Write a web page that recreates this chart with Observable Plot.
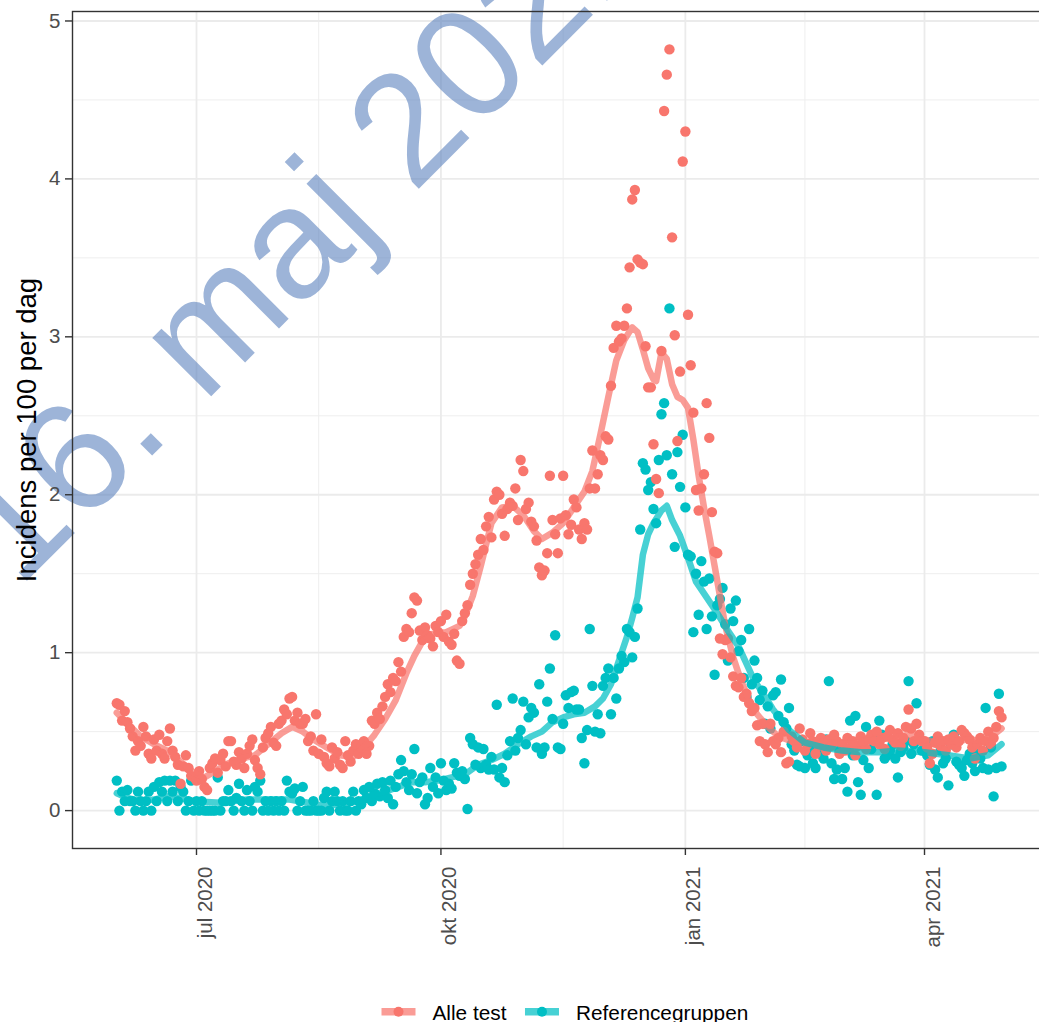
<!DOCTYPE html>
<html>
<head>
<meta charset="utf-8">
<script src="https://cdn.jsdelivr.net/npm/d3@7"></script>
<script src="https://cdn.jsdelivr.net/npm/@observablehq/plot@0.6"></script>
<style>
  html, body { margin: 0; padding: 0; background: #fff; overflow: hidden; }
  #wrap { position: relative; width: 1039px; height: 1022px; overflow: hidden; font-family: "Liberation Sans", Arial, sans-serif; }
  #chart { position: absolute; left: 0; top: 0; }
  #legend { position: absolute; left: 0; top: 990px; }
</style>
</head>
<body>
<div id="wrap"><div id="chart"></div><svg id="legend" width="1039" height="32"></svg></div>
<script>
// ---------- series & labels ----------
const seriesNames = ["Alle test", "Referencegruppen"];
const seriesColors = ["#F8766D", "#00BFC4"];
const yTitle = "Incidens per 100 per dag";
const watermark = "16. maj 2021";
const firstDay = "2020-06-01";            // daily observations from here on

// ---------- Alle test: daily incidence (per 100 per day) ----------
const alle_2020_06 = [0.68,0.67,0.57,0.63,0.56,0.52,0.47,0.38,0.44,0.41,0.53,0.47,0.36,0.33,0.45,0.38,0.48,0.36,0.33,0.44,0.52,0.38,0.34,0.29,0.17,0.28,0.35,0.27,0.22,0.21];
const alle_2020_07 = [0.19,0.25,0.20,0.15,0.13,0.27,0.30,0.33,0.24,0.32,0.36,0.28,0.44,0.44,0.31,0.29,0.37,0.33,0.27,0.36,0.41,0.45,0.32,0.27,0.23,0.40,0.46,0.49,0.53,0.43,0.41];
const alle_2020_08 = [0.55,0.57,0.64,0.61,0.71,0.72,0.57,0.62,0.55,0.55,0.58,0.44,0.47,0.38,0.61,0.36,0.45,0.34,0.30,0.28,0.40,0.33,0.37,0.29,0.27,0.44,0.35,0.31,0.38,0.42,0.36];
const alle_2020_09 = [0.40,0.44,0.36,0.41,0.57,0.55,0.62,0.58,0.66,0.72,0.80,0.75,0.84,0.82,0.94,0.88,1.10,1.15,1.13,1.25,1.35,1.33,1.14,1.08,1.16,1.11,1.09,1.04,1.17,1.13];
const alle_2020_10 = [1.20,1.10,1.24,1.07,1.05,1.12,0.95,0.93,1.20,1.25,1.30,1.43,1.50,1.56,1.62,1.72,1.65,1.80,1.86,1.73,1.97,2.02,2.00,1.88,1.74,1.91,1.95,1.93,2.04,1.84,2.22];
const alle_2020_11 = [2.15,1.91,1.95,1.83,1.80,1.71,1.54,1.49,1.52,1.63,2.12,1.84,1.75,1.63,1.85,2.12,1.87,1.75,1.81,1.97,1.92,1.78,1.72,1.82,1.78,2.04,2.28,2.04,2.13,2.25];
const alle_2020_12 = [2.22,2.37,2.35,2.69,2.93,3.07,2.97,2.99,3.07,3.18,3.44,3.87,3.93,3.49,3.47,3.46,2.94,2.68,2.68,2.32,2.10,2.01,2.91,4.43,4.66,4.82,3.63,3.01,2.34,2.78,4.11];
const alle_2021_01 = [4.30,3.14,2.82,2.52,2.03,1.90,2.04,2.13,2.58,2.36,1.89,1.64,1.63,1.09,0.99,1.08,1.09,0.97,0.85,0.79,0.78,0.84,0.72,0.74,0.68,0.63,0.65,0.54,0.44,0.55,0.42];
const alle_2021_02 = [0.37,0.55,0.44,0.42,0.46,0.37,0.50,0.30,0.31,0.47,0.44,0.40,0.52,0.45,0.38,0.42,0.49,0.44,0.36,0.41,0.46,0.43,0.38,0.45,0.41,0.48,0.44,0.36];
const alle_2021_03 = [0.42,0.38,0.46,0.40,0.44,0.35,0.41,0.47,0.43,0.39,0.45,0.48,0.44,0.50,0.42,0.46,0.39,0.47,0.51,0.45,0.43,0.49,0.41,0.46,0.53,0.64,0.52,0.44,0.55,0.48,0.44];
const alle_2021_04 = [0.44,0.40,0.30,0.36,0.43,0.47,0.41,0.44,0.38,0.45,0.42,0.47,0.40,0.44,0.51,0.49,0.47,0.45,0.40,0.33,0.42,0.46,0.38,0.44,0.50,0.42,0.46,0.53,0.63,0.59];

// ---------- Referencegruppen: daily incidence ----------
const ref_2020_06 = [0.19,0.00,0.12,0.06,0.13,0.06,0.06,0.00,0.12,0.06,0.00,0.06,0.12,0.00,0.15,0.06,0.18,0.12,0.19,0.06,0.19,0.12,0.19,0.06,0.15,0.12,0.00,0.06,0.19,0.00];
const ref_2020_07 = [0.06,0.00,0.06,0.00,0.00,0.00,0.00,0.00,0.21,0.00,0.06,0.06,0.13,0.06,0.00,0.08,0.17,0.06,0.00,0.13,0.06,0.00,0.15,0.12,0.19,0.00,0.06,0.00,0.06,0.00,0.06];
const ref_2020_08 = [0.00,0.06,0.00,0.19,0.12,0.11,0.14,0.00,0.06,0.15,0.00,0.00,0.00,0.06,0.00,0.00,0.00,0.08,0.12,0.00,0.06,0.12,0.06,0.00,0.06,0.00,0.00,0.06,0.12,0.00,0.06];
const ref_2020_09 = [0.04,0.13,0.08,0.15,0.06,0.11,0.17,0.09,0.18,0.13,0.08,0.19,0.04,0.15,0.23,0.32,0.25,0.18,0.13,0.23,0.39,0.11,0.18,0.21,0.04,0.08,0.27,0.15,0.21,0.11];
const ref_2020_10 = [0.30,0.19,0.13,0.17,0.14,0.30,0.24,0.22,0.25,0.20,0.01,0.46,0.42,0.29,0.40,0.27,0.39,0.29,0.26,0.34,0.26,0.67,0.21,0.27,0.18,0.35,0.44,0.71,0.38,0.46,0.51];
const ref_2020_11 = [0.69,0.42,0.59,0.65,0.62,0.40,0.80,0.36,0.40,0.69,0.90,0.58,1.11,0.40,0.39,0.55,0.73,0.65,0.75,0.76,0.64,0.64,0.46,0.30,0.51,1.15,0.79,0.50,0.61,0.49];
const ref_2020_12 = [0.79,0.84,0.90,0.61,0.84,0.71,0.90,0.98,0.94,1.15,1.13,0.97,1.10,1.28,1.78,2.20,2.16,2.03,2.08,1.91,1.82,2.22,2.51,2.58,2.25,3.18,2.13,1.67,2.27,2.05,2.38];
const ref_2021_01 = [1.92,1.62,1.61,1.13,1.50,1.24,1.58,1.45,1.15,1.47,1.23,0.86,1.30,1.34,1.41,1.18,0.95,1.28,1.20,1.33,1.01,1.08,0.84,0.72,1.15,0.80,0.95,0.84,0.70,0.76,0.55];
const ref_2021_02 = [0.66,0.52,0.73,0.75,0.60,0.83,0.56,0.52,0.65,0.42,0.38,0.29,0.28,0.44,0.27,0.35,0.40,0.30,0.27,0.41,0.36,0.33,0.45,0.82,0.30,0.20,0.26,0.38];
const ref_2021_03 = [0.20,0.27,0.12,0.57,0.35,0.60,0.18,0.10,0.32,0.53,0.27,0.39,0.45,0.10,0.57,0.48,0.33,0.35,0.38,0.42,0.33,0.21,0.37,0.40,0.44,0.82,0.36,0.42,0.68,0.45,0.38];
const ref_2021_04 = [0.40,0.35,0.29,0.44,0.26,0.21,0.38,0.30,0.33,0.16,0.42,0.48,0.31,0.29,0.27,0.22,0.32,0.36,0.30,0.25,0.38,0.33,0.27,0.65,0.26,0.40,0.09,0.27,0.74,0.28];

// ---------- smoothed lines ----------
const alleLineDates = ["2020-06-01","2020-06-05","2020-06-10","2020-06-15","2020-06-20","2020-06-25","2020-06-30","2020-07-04","2020-07-08","2020-07-13","2020-07-18","2020-07-23","2020-07-28","2020-08-02","2020-08-06","2020-08-10","2020-08-14","2020-08-19","2020-08-24","2020-08-29","2020-09-02","2020-09-06","2020-09-10","2020-09-14","2020-09-18","2020-09-21","2020-09-24","2020-09-28","2020-10-03","2020-10-08","2020-10-10","2020-10-13","2020-10-16","2020-10-20","2020-10-24","2020-10-28","2020-11-01","2020-11-05","2020-11-08","2020-11-12","2020-11-16","2020-11-20","2020-11-24","2020-11-27","2020-11-30","2020-12-03","2020-12-06","2020-12-09","2020-12-12","2020-12-14","2020-12-16","2020-12-18","2020-12-20","2020-12-21","2020-12-23","2020-12-25","2020-12-27","2020-12-29","2020-12-31","2021-01-02","2021-01-04","2021-01-06","2021-01-08","2021-01-10","2021-01-12","2021-01-14","2021-01-16","2021-01-19","2021-01-22","2021-01-25","2021-01-28","2021-02-01","2021-02-05","2021-02-10","2021-02-15","2021-02-20","2021-02-25","2021-03-02","2021-03-08","2021-03-14","2021-03-20","2021-03-26","2021-04-01","2021-04-06","2021-04-12","2021-04-18","2021-04-24","2021-04-30"];
const alleLineValues = [0.62,0.55,0.47,0.42,0.38,0.31,0.24,0.21,0.25,0.30,0.33,0.35,0.42,0.49,0.53,0.50,0.45,0.40,0.35,0.34,0.40,0.48,0.58,0.70,0.87,0.98,1.07,1.12,1.13,1.17,1.23,1.36,1.55,1.82,1.92,1.93,1.87,1.77,1.72,1.76,1.82,1.92,2.02,2.15,2.38,2.62,2.85,2.98,3.06,3.03,2.92,2.80,2.73,2.72,2.90,2.86,2.70,2.62,2.60,2.55,2.35,2.12,1.92,1.74,1.55,1.36,1.17,0.97,0.82,0.70,0.61,0.53,0.47,0.44,0.44,0.42,0.43,0.42,0.43,0.45,0.46,0.48,0.45,0.43,0.44,0.45,0.44,0.52];
const refLineDates = ["2020-06-01","2020-06-05","2020-06-10","2020-06-15","2020-06-20","2020-06-25","2020-06-30","2020-07-10","2020-07-20","2020-07-30","2020-08-05","2020-08-12","2020-08-18","2020-08-25","2020-08-31","2020-09-05","2020-09-10","2020-09-15","2020-09-20","2020-09-25","2020-09-30","2020-10-05","2020-10-10","2020-10-15","2020-10-20","2020-10-25","2020-10-30","2020-11-04","2020-11-08","2020-11-12","2020-11-16","2020-11-20","2020-11-24","2020-11-28","2020-12-01","2020-12-04","2020-12-07","2020-12-10","2020-12-12","2020-12-14","2020-12-16","2020-12-18","2020-12-20","2020-12-23","2020-12-25","2020-12-27","2020-12-30","2021-01-02","2021-01-05","2021-01-09","2021-01-13","2021-01-17","2021-01-21","2021-01-24","2021-01-27","2021-01-30","2021-02-03","2021-02-09","2021-02-15","2021-02-22","2021-03-01","2021-03-08","2021-03-15","2021-03-22","2021-04-01","2021-04-10","2021-04-18","2021-04-25","2021-04-30"];
const refLineValues = [0.11,0.08,0.06,0.07,0.09,0.08,0.06,0.05,0.07,0.07,0.07,0.05,0.03,0.04,0.06,0.10,0.12,0.15,0.18,0.18,0.19,0.21,0.23,0.29,0.32,0.36,0.42,0.47,0.50,0.56,0.59,0.61,0.62,0.66,0.71,0.80,0.95,1.10,1.22,1.35,1.62,1.75,1.82,1.90,1.93,1.84,1.74,1.60,1.45,1.35,1.25,1.14,1.04,0.93,0.82,0.75,0.64,0.51,0.43,0.40,0.38,0.37,0.37,0.38,0.37,0.35,0.33,0.35,0.42];

// ---------- axes ----------
const xTickDates = ["2020-07-01","2020-10-01","2021-01-01","2021-04-01"];
const xTickLabels = ["jul 2020","okt 2020","jan 2021","apr 2021"];
const xMinorDates = ["2020-08-16","2020-11-16","2021-02-15"];
const yTicks = [0, 1, 2, 3, 4, 5];
const yMinor = [0.5, 1.5, 2.5, 3.5, 4.5];
const xDomain = ["2020-05-15T08:00Z", "2021-05-17T07:00Z"];
const yDomain = [-0.24, 5.06];

// ---------- build tables ----------
const DAY = 864e5;
const t0 = new Date(firstDay + "T00:00Z").getTime();
function daily(months, name) {
  return months.flat().map((v, i) => ({date: new Date(t0 + i * DAY), value: v, series: name}));
}
const allePts = daily([alle_2020_06, alle_2020_07, alle_2020_08, alle_2020_09, alle_2020_10, alle_2020_11, alle_2020_12, alle_2021_01, alle_2021_02, alle_2021_03, alle_2021_04], seriesNames[0]);
const refPts = daily([ref_2020_06, ref_2020_07, ref_2020_08, ref_2020_09, ref_2020_10, ref_2020_11, ref_2020_12, ref_2021_01, ref_2021_02, ref_2021_03, ref_2021_04], seriesNames[1]);
const toLine = (ds, vs) => ds.map((d, i) => ({date: new Date(d + "T00:00Z"), value: vs[i]}));
const alleLine = toLine(alleLineDates, alleLineValues);
const refLine = toLine(refLineDates, refLineValues);
const xTicks = xTickDates.map((d, i) => ({date: new Date(d + "T00:00Z"), label: xTickLabels[i]}));
const xMinor = xMinorDates.map(d => new Date(d + "T00:00Z"));

const chart = Plot.plot({
  width: 1047,
  height: 985,
  marginLeft: 72,
  marginRight: 0,
  marginTop: 11,
  marginBottom: 137,
  style: {fontFamily: "'Liberation Sans', Arial, sans-serif", maxWidth: "none", overflow: "visible", background: "transparent"},
  x: {type: "utc", domain: xDomain.map(d => new Date(d)), label: null},
  y: {domain: yDomain, label: null},
  color: {domain: seriesNames, range: seriesColors},
  marks: [
    Plot.ruleY(yMinor, {stroke: "#EEEEEE", strokeWidth: 1}),
    Plot.ruleX(xMinor, {stroke: "#EEEEEE", strokeWidth: 1}),
    Plot.ruleY(yTicks, {stroke: "#EBEBEB", strokeWidth: 1.8}),
    Plot.ruleX(xTicks, {x: "date", stroke: "#EBEBEB", strokeWidth: 1.8}),
    Plot.text([watermark], {text: d => d, frameAnchor: "top-left", dx: 188, dy: 178, rotate: -45, fontSize: 157, fill: "#5B82BE", fillOpacity: 0.6, textAnchor: "middle"}),
    Plot.dot([...refPts, ...allePts], {x: "date", y: "value", fill: "series", r: 5.2}),
    Plot.line(alleLine, {x: "date", y: "value", stroke: seriesColors[0], strokeWidth: 6.5, strokeOpacity: 0.72}),
    Plot.line(refLine, {x: "date", y: "value", stroke: seriesColors[1], strokeWidth: 6.5, strokeOpacity: 0.72}),
    Plot.frame({stroke: "#333333", strokeWidth: 1.4}),
    Plot.axisY({ticks: yTicks, tickFormat: d => String(d), tickSize: 7, tickPadding: 5, fontSize: 20.5, stroke: "#333333", fill: "#4D4D4D", strokeWidth: 1.4, label: null}),
    Plot.axisX({ticks: xTicks.map(d => d.date), tickSize: 7, tickFormat: () => "", stroke: "#333333", strokeWidth: 1.4, label: null}),
    Plot.text(xTicks, {x: "date", text: "label", frameAnchor: "bottom", rotate: -90, textAnchor: "end", lineAnchor: "top", dy: 18, dx: 0.5, fontSize: 20.5, fill: "#4D4D4D"}),
    Plot.text([yTitle], {text: d => d, frameAnchor: "left", rotate: -90, dx: -45, fontSize: 27.5, fill: "#000000", textAnchor: "middle"})
  ]
});
document.getElementById("chart").appendChild(chart);

// ---------- legend ----------
const lg = d3.select("#legend").style("font-family", "'Liberation Sans', Arial, sans-serif");
let lx = 381.5;
seriesNames.forEach((name, i) => {
  lg.append("line").attr("x1", lx).attr("x2", lx + 34).attr("y1", 21.7).attr("y2", 21.7)
    .attr("stroke", seriesColors[i]).attr("stroke-width", 7.5).attr("stroke-opacity", 0.72);
  lg.append("circle").attr("cx", lx + 17).attr("cy", 21.7).attr("r", 5).attr("fill", seriesColors[i]);
  const t = lg.append("text").attr("x", lx + 51).attr("y", 29.5).attr("font-size", 20.8).attr("fill", "#000").text(name);
  lx = lx + 51 + t.node().getComputedTextLength() + 18.5;
});
</script>
</body>
</html>
